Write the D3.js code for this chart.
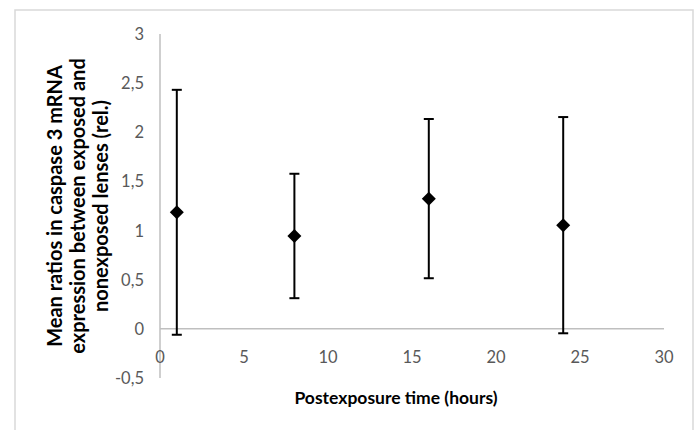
<!DOCTYPE html>
<html lang="en">
<head>
    <meta charset="UTF-8">
    <title>caspase 3 mRNA</title>
    <script src="https://d3js.org/d3.v7.min.js"></script>
    <style>
        body { margin: 0; background: #fff; }
        text { font-family: Lato, "Open Sans", sans-serif; }
        .tick-label { fill: #595959; font-size: 16.5px; }
        .title { fill: #000; font-weight: bold; }
    </style>
</head>
<body>
    <svg width="695" height="430"></svg>

    <script>
        // values
        let hours = [1, 8, 16, 24];
        let means = [1.186, 0.945, 1.325, 1.055];
        let errors = [1.246, 0.633, 0.81, 1.10];
        let xTicks = [0, 5, 10, 15, 20, 25, 30];
        let yTicks = [-0.5, 0, 0.5, 1, 1.5, 2, 2.5, 3];
        let yTitle = ['Mean ratios in caspase 3 mRNA', 'expression between exposed and', 'nonexposed lenses (rel.)'];

        let svg = d3.select('svg');

        // outer frame
        svg.append('rect')
            .attr('x', 15).attr('y', 10)
            .attr('width', 678).attr('height', 440)
            .attr('fill', 'none').attr('stroke', '#d9d9d9').attr('stroke-width', 1.5);

        let x = d3.scaleLinear().domain([0, 30]).range([160, 664]);
        let y = d3.scaleLinear().domain([-0.5, 3]).range([378, 34]);

        // axes lines
        svg.append('line')
            .attr('x1', x(0)).attr('x2', x(0))
            .attr('y1', y(3)).attr('y2', y(-0.5))
            .attr('stroke', '#bfbfbf').attr('stroke-width', 1.5);
        svg.append('line')
            .attr('x1', x(0)).attr('x2', x(30))
            .attr('y1', y(0)).attr('y2', y(0))
            .attr('stroke', '#bfbfbf').attr('stroke-width', 1.5);

        // tick labels
        let fmt = d => String(d).replace('.', ',');
        svg.selectAll('.ylab').data(yTicks).enter().append('text')
            .attr('class', 'tick-label')
            .attr('x', 144).attr('y', d => y(d) + 6)
            .attr('text-anchor', 'end')
            .text(fmt);
        svg.selectAll('.xlab').data(xTicks).enter().append('text')
            .attr('class', 'tick-label')
            .attr('x', d => x(d)).attr('y', 363)
            .attr('text-anchor', 'middle')
            .text(fmt);

        // titles
        svg.append('text').attr('class', 'title')
            .attr('x', 396).attr('y', 404)
            .attr('text-anchor', 'middle')
            .style('font-size', '17.5px')
            .text('Postexposure time (hours)');

        let yt = svg.append('text').attr('class', 'title')
            .attr('transform', 'translate(62 206) rotate(-90)')
            .attr('text-anchor', 'middle')
            .style('font-size', '20px');
        yTitle.forEach((t, i) => {
            yt.append('tspan').attr('x', 0).attr('y', i * 23).text(t);
        });

        // error bars
        let data = hours.map((h, i) => ({h: h, m: means[i], e: errors[i]}));
        let g = svg.append('g').attr('stroke', '#000').attr('stroke-width', 2);
        g.selectAll('.bar').data(data).enter().append('line')
            .attr('x1', d => x(d.h)).attr('x2', d => x(d.h))
            .attr('y1', d => y(d.m + d.e)).attr('y2', d => y(d.m - d.e));
        g.selectAll('.capTop').data(data).enter().append('line')
            .attr('x1', d => x(d.h) - 5).attr('x2', d => x(d.h) + 5)
            .attr('y1', d => y(d.m + d.e)).attr('y2', d => y(d.m + d.e));
        g.selectAll('.capBot').data(data).enter().append('line')
            .attr('x1', d => x(d.h) - 5).attr('x2', d => x(d.h) + 5)
            .attr('y1', d => y(d.m - d.e)).attr('y2', d => y(d.m - d.e));

        // diamond markers
        svg.selectAll('.pt').data(data).enter().append('path')
            .attr('d', 'M0,-7L7,0L0,7L-7,0Z')
            .attr('transform', d => 'translate(' + x(d.h) + ' ' + y(d.m) + ')')
            .attr('fill', '#000');
    </script>
</body>
</html>
